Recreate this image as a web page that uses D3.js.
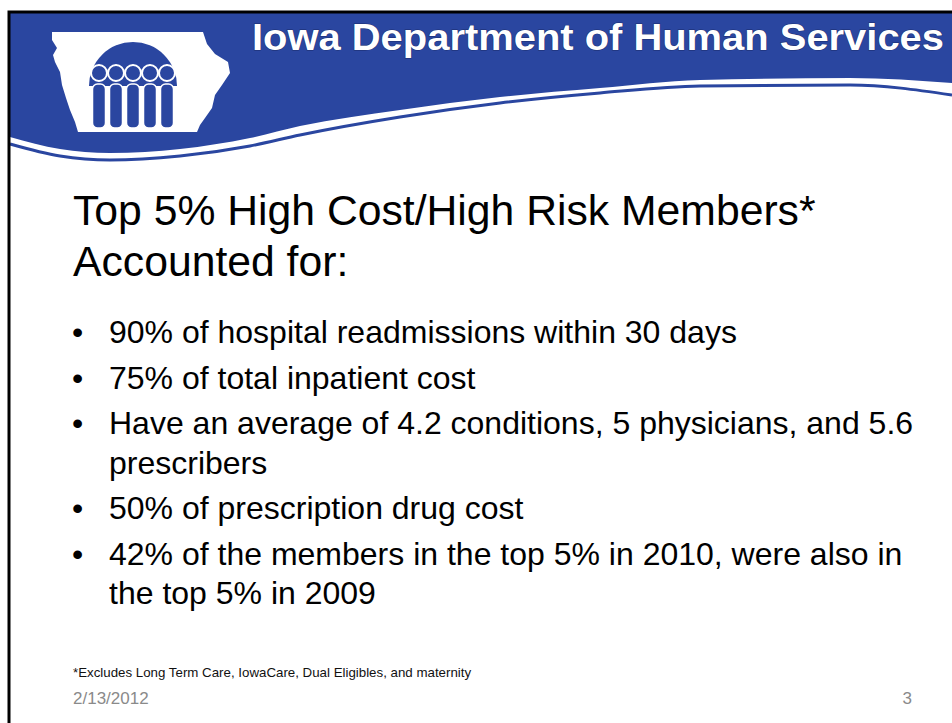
<!DOCTYPE html>
<html>
<head>
<meta charset="utf-8">
<script src="https://cdn.jsdelivr.net/npm/d3@7"></script>
<style>
  html, body { margin: 0; padding: 0; background: #fff; }
  svg { display: block; font-family: "Liberation Sans", Arial, sans-serif; }
</style>
</head>
<body>
<div id="slide"></div>
<script>
const headerTitle = "Iowa Department of Human Services";
const titleLines = ["Top 5% High Cost/High Risk Members*", "Accounted for:"];
const bulletItems = [
    ["90% of hospital readmissions within 30 days"],
    ["75% of total inpatient cost"],
    ["Have an average of 4.2 conditions, 5 physicians, and 5.6", "prescribers"],
    ["50% of prescription drug cost"],
    ["42% of the members in the top 5% in 2010, were also in", "the top 5% in 2009"]
];
const footnote = "*Excludes Long Term Care, IowaCare, Dual Eligibles, and maternity";
const dateLabel = "2/13/2012";
const pageNumber = "3";

// header wave, bottom edge of the blue band and the thin stripe below it
const waveX = [10, 60, 110, 180, 250, 300, 400, 500, 600, 700, 850, 952];
const waveMain = [137, 149, 153, 149, 138, 126, 110, 97, 88, 80, 78, 83];
const waveStripe = [144, 156, 160, 156, 146, 135, 117, 103, 93, 86, 85, 95];

const width = 952;
const height = 723;
const blue = "#2a46a0";

const svg = d3.select("#slide").append("svg")
    .attr("width", width)
    .attr("height", height);

// header band
const bandTop = 13;
const line = d3.line().curve(d3.curveMonotoneX);
const mainPts = waveX.map((x, i) => [x, waveMain[i]]);
const stripePts = waveX.map((x, i) => [x, waveStripe[i]]);

svg.append("path")
    .attr("d", `M10,${bandTop}L${width},${bandTop}L` +
        line(mainPts.slice().reverse()).slice(1) + "Z")
    .attr("fill", blue);

svg.append("path")
    .attr("d", line(stripePts))
    .attr("fill", "none")
    .attr("stroke", blue)
    .attr("stroke-width", 3);

// Iowa outline logo
const iowa = [[52, 32], [203, 32], [207, 44], [215, 54], [228, 62], [230, 73], [222, 85],
    [215, 95], [212, 108], [205, 118], [200, 125], [197, 132], [78, 132], [75, 122],
    [70, 110], [66, 98], [62, 85], [60, 72], [55, 62], [53, 55], [57, 48], [52, 40]];
svg.append("path")
    .attr("d", d3.line().curve(d3.curveLinearClosed)(iowa))
    .attr("fill", "#fff");

const cx = 133, domeR = 44, domeY = 86;
svg.append("path")
    .attr("d", d3.arc()({ innerRadius: 0, outerRadius: domeR, startAngle: -Math.PI / 2, endAngle: Math.PI / 2 }))
    .attr("transform", `translate(${cx},${domeY})`)
    .attr("fill", blue);

const people = [99, 116, 133, 150, 167];
svg.selectAll("rect.body")
    .data(people)
    .join("rect")
    .attr("class", "body")
    .attr("x", d => d - 6.5)
    .attr("y", 84)
    .attr("width", 13)
    .attr("height", 44)
    .attr("rx", 5)
    .attr("fill", blue)
    .attr("stroke", "#fff")
    .attr("stroke-width", 1.5);

svg.selectAll("circle.head")
    .data(people)
    .join("circle")
    .attr("class", "head")
    .attr("cx", d => d)
    .attr("cy", 73)
    .attr("r", 8)
    .attr("fill", blue)
    .attr("stroke", "#fff")
    .attr("stroke-width", 2);

svg.append("text")
    .attr("x", 252)
    .attr("y", 50)
    .attr("fill", "#fff")
    .attr("font-size", 37)
    .attr("font-weight", "bold")
    .attr("textLength", 692)
    .attr("lengthAdjust", "spacingAndGlyphs")
    .style("paint-order", "stroke")
    .attr("stroke", "#1a2d6e")
    .attr("stroke-width", 1)
    .text(headerTitle);

// slide border (only top and left visible)
svg.append("path")
    .attr("d", `M9,${height}L9,12L${width},12`)
    .attr("fill", "none")
    .attr("stroke", "#000")
    .attr("stroke-width", 3);

// title
svg.selectAll("text.title")
    .data(titleLines)
    .join("text")
    .attr("class", "title")
    .attr("x", 73)
    .attr("y", (d, i) => 225 + i * 51)
    .attr("font-size", 42.7)
    .attr("fill", "#000")
    .text(d => d);

// bullets
let y = 343;
const rows = [];
bulletItems.forEach(item => {
    item.forEach((t, j) => {
        rows.push({ text: t, y: y + j * 39.5, first: j === 0 });
    });
    y += (item.length - 1) * 39.5 + 45.5;
});

svg.selectAll("text.bullet")
    .data(rows.filter(r => r.first))
    .join("text")
    .attr("class", "bullet")
    .attr("x", 72)
    .attr("y", d => d.y)
    .attr("font-size", 32)
    .text("\u2022");

svg.selectAll("text.item")
    .data(rows)
    .join("text")
    .attr("class", "item")
    .attr("x", 109)
    .attr("y", d => d.y)
    .attr("font-size", 32)
    .attr("fill", "#000")
    .text(d => d.text);

// footer
svg.append("text")
    .attr("x", 73)
    .attr("y", 677)
    .attr("font-size", 13.3)
    .attr("fill", "#111")
    .text(footnote);

svg.append("text")
    .attr("x", 73)
    .attr("y", 704)
    .attr("font-size", 17)
    .attr("fill", "#8a8a8a")
    .text(dateLabel);

svg.append("text")
    .attr("x", 912)
    .attr("y", 704)
    .attr("text-anchor", "end")
    .attr("font-size", 17)
    .attr("fill", "#8a8a8a")
    .text(pageNumber);
</script>
</body>
</html>
